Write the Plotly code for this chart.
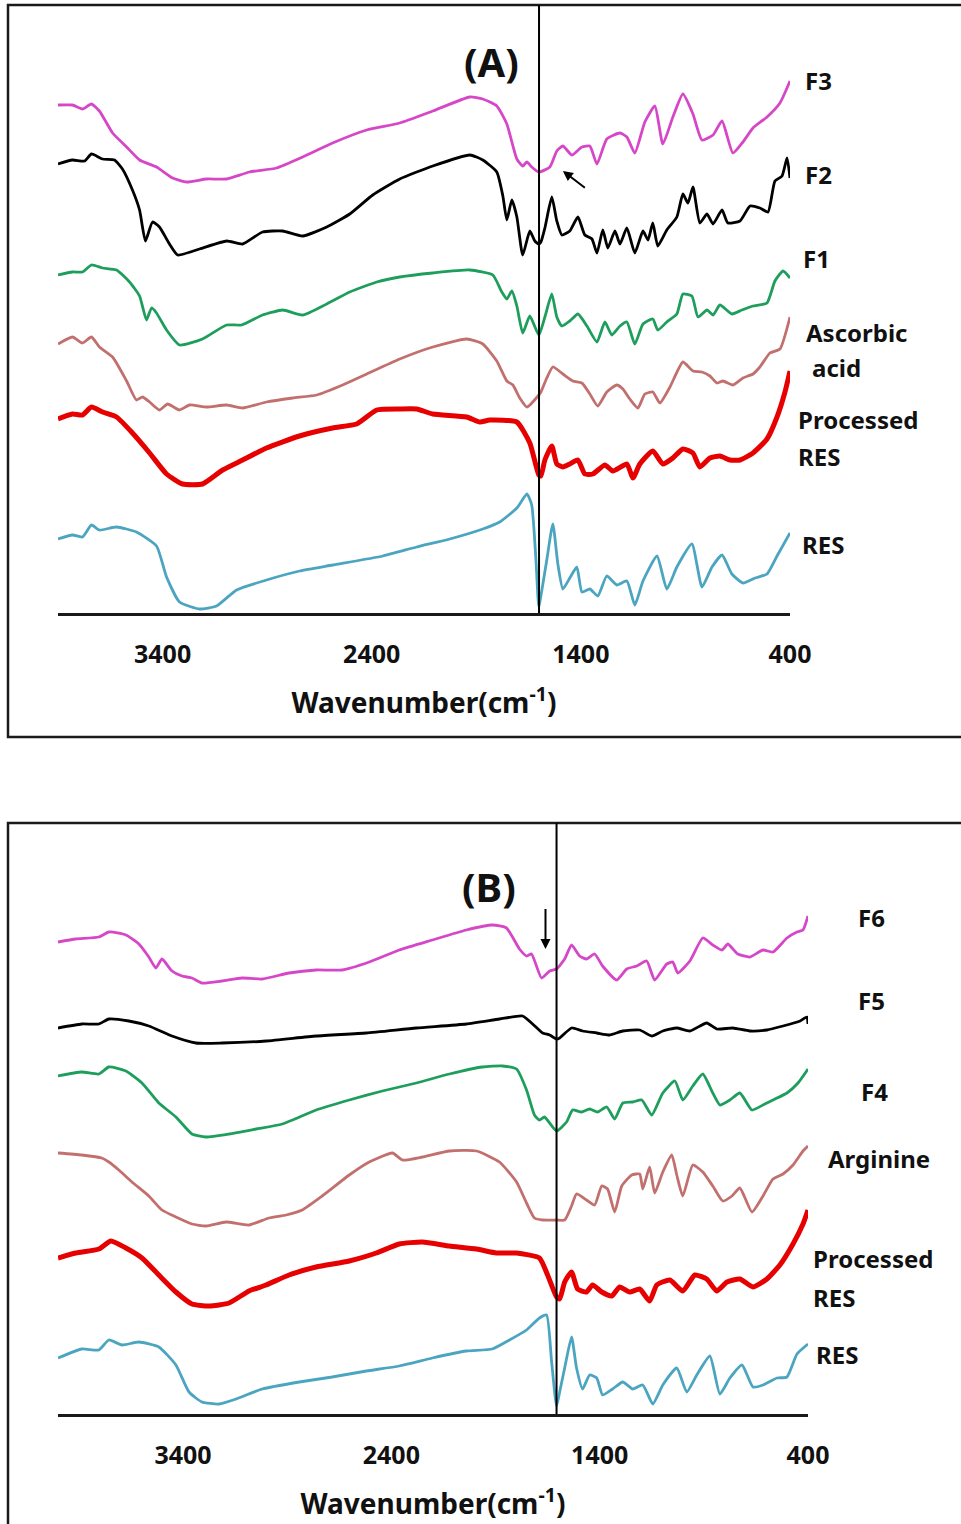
import plotly.graph_objects as go

# ---------------- Panel A data (wavenumber cm-1, transmittance a.u. with offsets) ----------------
a_f3_wn = [3900, 3831, 3783, 3740, 3702, 3639, 3572, 3510, 3429, 3352, 3285, 3190, 3094, 2984, 2855, 2730, 2587, 2424, 2266, 2108, 1931, 1869, 1802, 1754, 1706, 1678, 1658, 1635, 1601, 1548, 1515, 1486, 1443, 1395, 1357, 1323, 1276, 1213, 1180, 1142, 1094, 1046, 1008, 960, 912, 864, 821, 768, 725, 673, 625, 577, 510, 448, 400]
a_f3_t = [50.8, 50.8, 50.4, 50.9, 50.2, 48.0, 46.6, 45.3, 44.6, 43.5, 43.1, 43.4, 43.4, 44.1, 44.5, 45.6, 47.0, 48.3, 49.0, 50.2, 51.6, 51.4, 50.7, 48.9, 45.4, 44.7, 45.1, 44.6, 44.1, 44.6, 46.2, 46.7, 45.8, 46.6, 46.7, 44.9, 47.4, 48.0, 47.6, 46.0, 49.1, 50.7, 46.9, 49.6, 51.9, 49.9, 47.3, 47.8, 49.2, 46.0, 47.1, 48.5, 49.6, 51.0, 53.2]

a_f2_wn = [3900, 3831, 3773, 3740, 3687, 3630, 3592, 3544, 3510, 3482, 3448, 3415, 3367, 3328, 3223, 3094, 3017, 2922, 2826, 2730, 2615, 2505, 2395, 2266, 2108, 1931, 1869, 1802, 1773, 1754, 1730, 1706, 1678, 1644, 1620, 1601, 1591, 1572, 1539, 1515, 1491, 1453, 1414, 1381, 1347, 1323, 1295, 1271, 1237, 1213, 1180, 1142, 1103, 1079, 1056, 1032, 989, 941, 912, 888, 864, 831, 797, 768, 725, 697, 639, 591, 544, 505, 472, 438, 414, 400]
a_f2_t = [44.9, 45.3, 45.2, 45.9, 45.4, 45.3, 44.4, 42.3, 40.3, 37.2, 39.1, 38.6, 36.9, 35.8, 36.4, 37.2, 36.9, 38.1, 38.2, 37.7, 38.6, 39.9, 41.8, 43.4, 44.7, 45.8, 45.3, 44.1, 41.7, 39.3, 41.3, 39.6, 35.8, 38.2, 37.2, 36.9, 37.1, 38.5, 41.6, 39.2, 37.8, 38.2, 39.6, 37.8, 37.4, 36.0, 38.3, 36.5, 38.2, 36.9, 38.5, 36.0, 38.2, 37.3, 39.0, 36.7, 38.3, 39.6, 41.9, 41.0, 42.6, 39.0, 39.9, 38.9, 40.3, 39.0, 39.2, 40.7, 40.5, 40.1, 43.2, 43.7, 45.5, 43.5]

a_f1_wn = [3900, 3831, 3783, 3740, 3687, 3620, 3558, 3510, 3477, 3453, 3429, 3381, 3319, 3209, 3094, 3022, 2922, 2826, 2730, 2615, 2505, 2376, 2266, 2108, 1931, 1821, 1778, 1754, 1730, 1706, 1678, 1644, 1601, 1572, 1539, 1515, 1491, 1453, 1414, 1371, 1323, 1285, 1252, 1213, 1180, 1142, 1103, 1056, 1032, 989, 941, 912, 869, 840, 797, 768, 735, 678, 630, 577, 510, 472, 433, 400]
a_f1_t = [33.8, 34.1, 34.1, 34.8, 34.5, 34.3, 33.1, 31.7, 29.3, 30.5, 30.0, 28.3, 26.8, 27.4, 28.8, 28.8, 29.8, 30.3, 29.8, 30.9, 32.1, 33.1, 33.6, 34.0, 34.3, 33.8, 32.1, 31.4, 32.2, 30.7, 28.0, 29.7, 27.8, 29.6, 31.9, 29.6, 28.7, 29.2, 29.9, 28.7, 27.1, 29.1, 27.8, 28.7, 29.1, 26.9, 28.9, 29.4, 28.3, 29.1, 29.9, 31.9, 31.7, 29.6, 30.3, 29.8, 30.8, 29.9, 30.3, 30.7, 31.0, 33.2, 34.2, 33.5]

a_asc_wn = [3900, 3831, 3783, 3740, 3702, 3639, 3572, 3525, 3496, 3462, 3415, 3376, 3319, 3271, 3190, 3094, 3017, 2903, 2778, 2663, 2539, 2424, 2266, 2108, 1946, 1869, 1802, 1754, 1725, 1692, 1658, 1601, 1591, 1563, 1534, 1486, 1438, 1395, 1357, 1319, 1276, 1228, 1199, 1166, 1127, 1094, 1056, 1022, 974, 912, 864, 821, 783, 749, 721, 673, 625, 577, 544, 496, 448, 400]
a_asc_t = [26.9, 27.6, 27.0, 27.6, 26.6, 25.6, 23.2, 21.3, 21.6, 21.1, 20.3, 20.9, 20.3, 20.8, 20.6, 20.8, 20.5, 21.1, 21.5, 21.8, 22.8, 23.9, 25.4, 26.6, 27.4, 26.9, 25.2, 23.2, 22.8, 21.5, 20.6, 21.8, 22.1, 23.5, 24.6, 23.9, 23.2, 23.0, 21.9, 20.7, 22.1, 22.8, 22.4, 21.4, 20.5, 21.9, 22.1, 21.0, 22.6, 25.1, 24.2, 24.1, 23.7, 23.0, 23.2, 22.8, 23.5, 23.9, 24.6, 26.0, 26.4, 29.6]

a_pres_wn = [3900, 3831, 3783, 3740, 3687, 3620, 3544, 3462, 3381, 3304, 3209, 3113, 3017, 2903, 2745, 2587, 2472, 2376, 2266, 2185, 2108, 1946, 1883, 1836, 1706, 1644, 1601, 1591, 1572, 1539, 1515, 1486, 1453, 1414, 1381, 1343, 1285, 1247, 1180, 1151, 1118, 1056, 1008, 960, 912, 864, 831, 783, 735, 687, 639, 577, 510, 462, 424, 400]
a_pres_t = [19.4, 19.9, 19.8, 20.6, 20.1, 19.6, 18.0, 16.0, 13.9, 12.9, 12.9, 14.3, 15.3, 16.5, 17.7, 18.5, 18.9, 20.3, 20.4, 20.4, 19.9, 19.6, 19.1, 19.3, 19.1, 17.0, 13.8, 13.7, 15.3, 16.7, 14.9, 14.6, 14.9, 15.3, 13.9, 13.9, 14.8, 14.2, 14.9, 13.5, 14.9, 16.2, 14.9, 15.5, 16.4, 16.0, 14.6, 15.5, 15.7, 15.3, 15.3, 16.0, 17.4, 19.6, 22.1, 24.2]

a_res_wn = [3900, 3831, 3783, 3740, 3702, 3620, 3525, 3429, 3381, 3319, 3223, 3142, 3046, 2903, 2745, 2587, 2347, 2185, 2027, 1869, 1788, 1706, 1658, 1635, 1615, 1601, 1591, 1563, 1534, 1510, 1486, 1453, 1419, 1395, 1357, 1319, 1276, 1228, 1180, 1142, 1103, 1036, 989, 941, 869, 821, 773, 725, 678, 625, 567, 510, 462, 400]
a_res_t = [7.4, 7.8, 7.6, 8.8, 8.3, 8.6, 8.1, 6.7, 3.6, 1.1, 0.4, 0.7, 2.3, 3.3, 4.2, 4.8, 5.7, 6.6, 7.4, 8.4, 9.1, 10.5, 11.9, 10.8, 5.4, 0.6, 1.7, 5.3, 8.9, 4.9, 2.4, 3.5, 4.6, 2.1, 2.4, 1.7, 3.7, 2.8, 3.2, 0.8, 3.2, 5.7, 2.4, 4.6, 6.9, 2.6, 4.6, 5.8, 3.9, 3.0, 3.5, 3.9, 5.7, 8.0]

# ---------------- Panel B data ----------------
b_f6_wn = [4000, 3915, 3804, 3756, 3674, 3612, 3564, 3530, 3501, 3453, 3405, 3357, 3309, 3213, 3117, 3020, 2891, 2761, 2636, 2506, 2362, 2203, 2040, 1915, 1847, 1785, 1751, 1727, 1679, 1640, 1607, 1568, 1535, 1496, 1463, 1424, 1386, 1318, 1270, 1222, 1174, 1136, 1078, 1049, 1025, 967, 905, 857, 813, 785, 737, 679, 616, 568, 501, 453, 424, 400]
b_f6_t = [47.2, 47.5, 47.7, 48.2, 47.9, 47.0, 45.7, 44.6, 45.5, 44.3, 43.8, 43.6, 43.1, 43.3, 43.6, 43.5, 44.1, 44.4, 44.4, 45.2, 46.4, 47.4, 48.4, 48.9, 48.6, 46.5, 45.8, 46.0, 43.6, 44.3, 44.5, 45.5, 46.9, 45.8, 45.5, 46.0, 44.8, 43.4, 44.5, 44.8, 45.3, 43.4, 45.0, 45.2, 44.1, 45.3, 47.6, 46.9, 46.4, 47.0, 46.0, 45.7, 46.4, 46.2, 47.6, 48.2, 48.4, 49.8]

b_f5_wn = [4000, 3886, 3804, 3756, 3660, 3564, 3453, 3338, 3213, 3001, 2761, 2520, 2280, 2040, 1881, 1770, 1722, 1674, 1640, 1607, 1592, 1535, 1482, 1414, 1352, 1289, 1208, 1150, 1097, 1030, 967, 886, 838, 761, 679, 597, 520, 438, 405, 400]
b_f5_t = [38.6, 39.0, 39.0, 39.5, 39.3, 38.8, 37.8, 37.1, 37.1, 37.3, 37.8, 38.1, 38.6, 39.0, 39.5, 39.8, 39.0, 38.1, 37.9, 37.5, 37.6, 38.6, 38.3, 38.1, 37.9, 38.3, 38.4, 37.8, 38.3, 38.6, 38.3, 39.1, 38.5, 38.6, 38.3, 38.4, 38.8, 39.3, 39.7, 39.0]

b_f4_wn = [4000, 3886, 3804, 3756, 3674, 3597, 3516, 3434, 3357, 3290, 3179, 3049, 2924, 2761, 2602, 2443, 2280, 2121, 1963, 1866, 1799, 1751, 1713, 1689, 1665, 1607, 1559, 1530, 1487, 1448, 1410, 1366, 1328, 1289, 1241, 1198, 1150, 1097, 1039, 1001, 953, 905, 857, 823, 775, 727, 669, 616, 568, 501, 448, 400]
b_f4_t = [33.8, 34.2, 34.0, 34.7, 34.3, 33.1, 31.1, 29.7, 28.0, 27.7, 28.0, 28.5, 29.0, 30.4, 31.4, 32.3, 33.1, 34.0, 34.7, 34.8, 34.5, 32.4, 29.9, 29.4, 29.7, 28.3, 29.2, 30.4, 30.2, 30.5, 30.2, 30.7, 29.5, 31.1, 31.2, 31.4, 29.9, 32.1, 33.3, 31.4, 32.8, 34.0, 32.1, 30.9, 31.4, 32.1, 30.4, 30.9, 31.4, 32.1, 33.1, 34.5]

b_arg_wn = [4000, 3886, 3790, 3756, 3708, 3645, 3564, 3501, 3434, 3357, 3290, 3193, 3083, 2987, 2905, 2828, 2732, 2602, 2506, 2395, 2347, 2251, 2121, 1991, 1881, 1799, 1751, 1713, 1674, 1607, 1568, 1535, 1511, 1463, 1424, 1390, 1362, 1328, 1294, 1246, 1208, 1193, 1160, 1136, 1097, 1054, 1030, 1001, 953, 905, 857, 809, 765, 727, 669, 616, 568, 520, 472, 424, 400]
b_arg_t = [26.1, 25.9, 25.6, 25.2, 24.4, 23.2, 21.8, 20.4, 19.7, 19.0, 18.8, 19.2, 18.9, 19.6, 19.9, 20.4, 21.8, 23.9, 25.2, 26.1, 25.4, 25.7, 26.3, 26.3, 25.2, 23.2, 21.1, 19.6, 19.4, 19.4, 19.4, 20.8, 22.0, 21.4, 20.9, 22.8, 22.5, 20.2, 22.8, 23.9, 24.0, 22.5, 24.7, 22.1, 24.2, 25.9, 23.9, 21.8, 24.9, 24.2, 22.8, 21.3, 21.8, 22.6, 20.2, 21.8, 23.5, 24.0, 24.9, 26.3, 26.8]

b_pres_wn = [4000, 3915, 3804, 3746, 3674, 3597, 3516, 3434, 3357, 3275, 3179, 3083, 3001, 2891, 2761, 2602, 2472, 2362, 2251, 2121, 1991, 1895, 1799, 1689, 1650, 1607, 1592, 1568, 1535, 1506, 1463, 1434, 1390, 1342, 1304, 1256, 1208, 1160, 1126, 1063, 1001, 943, 886, 838, 789, 727, 664, 597, 535, 472, 424, 400]
b_pres_t = [15.6, 16.1, 16.5, 17.3, 16.6, 15.6, 13.9, 12.2, 11.0, 10.8, 11.1, 12.3, 12.9, 13.9, 14.7, 15.3, 16.1, 17.0, 17.2, 16.8, 16.5, 16.1, 16.1, 15.6, 13.9, 11.7, 11.5, 13.2, 14.2, 12.5, 12.2, 12.9, 12.2, 11.8, 12.7, 12.2, 12.5, 11.3, 12.9, 13.4, 12.3, 13.9, 13.5, 12.3, 13.2, 13.5, 12.7, 13.5, 14.9, 17.0, 19.0, 20.4]

b_res_wn = [4000, 3886, 3804, 3756, 3693, 3612, 3516, 3434, 3371, 3309, 3227, 3145, 3020, 2842, 2684, 2520, 2362, 2203, 2040, 1915, 1833, 1751, 1689, 1655, 1631, 1607, 1592, 1568, 1535, 1511, 1482, 1448, 1414, 1386, 1338, 1289, 1241, 1193, 1145, 1097, 1030, 982, 934, 871, 823, 775, 717, 664, 616, 549, 501, 453, 400]
b_res_t = [5.6, 6.5, 6.4, 7.4, 6.9, 7.2, 6.7, 4.9, 2.2, 1.2, 1.0, 1.5, 2.5, 3.2, 3.7, 4.3, 4.8, 5.6, 6.3, 6.5, 7.4, 8.4, 9.6, 9.9, 5.3, 0.8, 2.2, 4.6, 7.7, 4.6, 2.5, 3.9, 3.6, 1.9, 2.5, 3.2, 2.5, 2.9, 1.0, 2.9, 4.6, 2.2, 3.9, 5.8, 2.0, 3.6, 4.9, 2.7, 2.9, 3.6, 3.7, 6.0, 7.0]

tick_vals = [3400, 2400, 1400, 400]
tick_text = ["3400", "2400", "1400", "400"]

MAGENTA = "#D647C8"
BLACK = "#000000"
GREEN = "#1E9E5C"
ROSE = "#C2706E"
RED = "#E60000"
TEAL = "#4BA5C0"

FONT = "Noto Sans"
W, H = 961, 1524

fig = go.Figure()

def add(wn, t, color, width, ax):
    fig.add_trace(go.Scatter(x=wn, y=t, mode="lines",
                             line=dict(color=color, width=width, shape="spline", smoothing=0.5),
                             xaxis="x" if ax == 1 else "x2", yaxis="y" if ax == 1 else "y2",
                             showlegend=False, hoverinfo="skip"))

add(a_f3_wn, a_f3_t, MAGENTA, 2.8, 1)
add(a_f2_wn, a_f2_t, BLACK, 2.8, 1)
add(a_f1_wn, a_f1_t, GREEN, 2.8, 1)
add(a_asc_wn, a_asc_t, ROSE, 2.8, 1)
add(a_pres_wn, a_pres_t, RED, 5, 1)
add(a_res_wn, a_res_t, TEAL, 2.8, 1)

add(b_f6_wn, b_f6_t, MAGENTA, 2.8, 2)
add(b_f5_wn, b_f5_t, BLACK, 2.8, 2)
add(b_f4_wn, b_f4_t, GREEN, 2.8, 2)
add(b_arg_wn, b_arg_t, ROSE, 2.8, 2)
add(b_pres_wn, b_pres_t, RED, 5, 2)
add(b_res_wn, b_res_t, TEAL, 2.8, 2)

def px_x(p):
    return p / W

def px_y(p):
    return 1 - p / H

xcommon = dict(showgrid=False, zeroline=False, showline=True, linewidth=3, linecolor="#1a1a1a",
               ticks="", tickvals=tick_vals, ticktext=tick_text,
               tickfont=dict(family=FONT, size=25, color="#111", weight="bold"), ticklabelstandoff=17)
ycommon = dict(visible=False, showgrid=False, zeroline=False)

title_txt = "Wavenumber(cm<sup>-1</sup>)"
title_font = dict(family=FONT, size=28, color="#111", weight="bold")

fig.update_layout(
    width=W, height=H, autosize=False, margin=dict(l=0, r=0, t=0, b=0, autoexpand=False),
    paper_bgcolor="white", plot_bgcolor="white",
    xaxis=dict(domain=[px_x(58), px_x(790)], range=[3900, 400], anchor="y",
               title=dict(text=title_txt, font=title_font, standoff=25), **xcommon),
    yaxis=dict(domain=[px_y(613), px_y(5)], range=[0, 60.8], anchor="x", **ycommon),
    xaxis2=dict(domain=[px_x(58), px_x(808)], range=[4000, 400], anchor="y2",
                title=dict(text=title_txt, font=title_font, standoff=25), **xcommon),
    yaxis2=dict(domain=[px_y(1414), px_y(823)], range=[0, 59.1], anchor="x2", **ycommon),
)

# panel frames
fig.add_shape(type="rect", xref="paper", yref="paper", x0=px_x(8), x1=1.02, y0=px_y(737), y1=px_y(5),
              line=dict(color="#1a1a1a", width=2.5), layer="below")
fig.add_shape(type="rect", xref="paper", yref="paper", x0=px_x(8), x1=1.02, y0=-0.02, y1=px_y(823),
              line=dict(color="#1a1a1a", width=2.5), layer="below")

# vertical reference lines
fig.add_shape(type="line", xref="x", yref="y domain", x0=1600, x1=1600, y0=0, y1=1,
              line=dict(color="black", width=2))
fig.add_shape(type="line", xref="x2", yref="y2 domain", x0=1607, x1=1607, y0=0, y1=1,
              line=dict(color="black", width=2))

def label(text, x, y, size=24):
    fig.add_annotation(text=text, xref="paper", yref="paper", x=px_x(x), y=px_y(y),
                       xanchor="left", yanchor="middle", showarrow=False, align="left",
                       font=dict(family=FONT, size=size, color="#111", weight="bold"))

# panel titles
fig.add_annotation(text="(A)", xref="paper", yref="paper", x=px_x(491), y=px_y(61),
                   xanchor="center", yanchor="middle", showarrow=False,
                   font=dict(family=FONT, size=40, color="#111", weight="bold"))
fig.add_annotation(text="(B)", xref="paper", yref="paper", x=px_x(489), y=px_y(886),
                   xanchor="center", yanchor="middle", showarrow=False,
                   font=dict(family=FONT, size=40, color="#111", weight="bold"))

# series labels panel A
label("F3", 803, 80)
label("F2", 803, 175)
label("F1", 801, 258)
label("Ascorbic", 804, 332)
label("acid", 810, 368)
label("Processed", 796, 419)
label("RES", 796, 456)
label("RES", 800, 545)

# series labels panel B
label("F6", 856, 917)
label("F5", 856, 1000)
label("F4", 859, 1091)
label("Arginine", 826, 1158)
label("Processed", 811, 1258)
label("RES", 811, 1297)
label("RES", 814, 1354)

# arrows
fig.add_annotation(x=1486, y=44.2, xref="x", yref="y", ax=25, ay=19, axref="pixel", ayref="pixel",
                   showarrow=True, arrowhead=2, arrowsize=1, arrowwidth=2, arrowcolor="black", text=" ")
fig.add_annotation(x=1660, y=46.5, xref="x2", yref="y2", ax=0, ay=-50, axref="pixel", ayref="pixel",
                   showarrow=True, arrowhead=2, arrowsize=1, arrowwidth=2, arrowcolor="black", text=" ")

fig.write_html(
    "out.html",
    config={"responsive": False},
    post_script="document.body.style.margin='0';document.body.style.overflow='hidden';"
                "Plotly.relayout(document.getElementById('{plot_id}'),{width:961,height:1524,autosize:false});",
)
